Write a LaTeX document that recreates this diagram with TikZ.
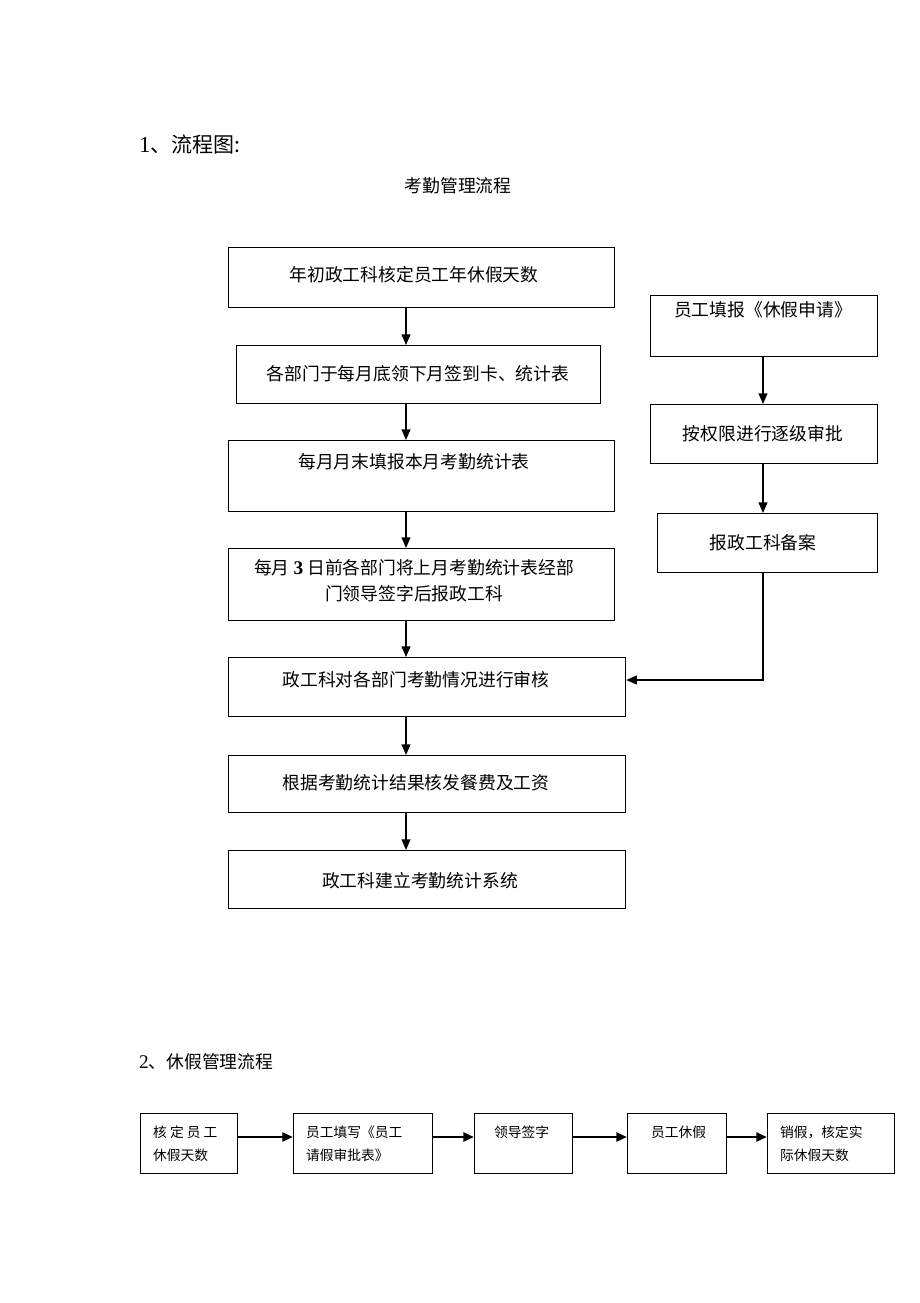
\documentclass[tikz,border=0pt]{standalone}
\usepackage{fontspec}
\setmainfont{Liberation Serif}
\newfontfamily\cjk{Noto Sans CJK SC}[Scale=0.92]
\usetikzlibrary{arrows.meta}
\begin{document}
\begin{tikzpicture}[x=0.02cm,y=-0.02cm,
  bx/.style={draw,line width=0.7pt,anchor=north west,inner sep=0pt},
  lbl/.style={font=\cjk\fontsize{11pt}{15pt}\selectfont},
  sm/.style={font=\cjk\fontsize{8.5pt}{13pt}\selectfont,align=left,anchor=north west},
  arr/.style={-{Triangle[length=6pt,width=5pt]},line width=0.7pt},
  arr2/.style={-{Triangle[length=6pt,width=5pt]},line width=1.6pt}]
\useasboundingbox (0,0) rectangle (920,1303);
\node[anchor=west,font=\fontsize{13pt}{15pt}\selectfont] (t1) at (133,145) {1{\cjk 、流程图:}};
\node[lbl] (t2) at (458,186) {考勤管理流程};
\node[anchor=west,lbl] (t3) at (133,1062) {\normalfont 2{\cjk 、休假管理流程}};
% left column
\node[bx,minimum width=386*0.02cm,minimum height=60*0.02cm] (a1) at (228,247) {};
\node[lbl] at (414,275) {年初政工科核定员工年休假天数};
\node[bx,minimum width=364*0.02cm,minimum height=58*0.02cm] (a2) at (236,345) {};
\node[lbl] at (418,374) {各部门于每月底领下月签到卡、统计表};
\node[bx,minimum width=386*0.02cm,minimum height=71*0.02cm] (a3) at (228,440) {};
\node[lbl] at (414,462) {每月月末填报本月考勤统计表};
\node[bx,minimum width=386*0.02cm,minimum height=72*0.02cm] (a4) at (228,548) {};
\node[lbl,align=center] at (414,581) {每月 {\normalfont\bfseries 3} 日前各部门将上月考勤统计表经部\\门领导签字后报政工科};
\node[bx,minimum width=397*0.02cm,minimum height=59*0.02cm] (a5) at (228,657) {};
\node[lbl] at (416,680) {政工科对各部门考勤情况进行审核};
\node[bx,minimum width=397*0.02cm,minimum height=57*0.02cm] (a6) at (228,755) {};
\node[lbl] at (416,783) {根据考勤统计结果核发餐费及工资};
\node[bx,minimum width=397*0.02cm,minimum height=58*0.02cm] (a7) at (228,850) {};
\node[lbl] at (420,881) {政工科建立考勤统计系统};
\foreach \i/\j in {a1/a2,a2/a3,a3/a4,a4/a5,a5/a6,a6/a7}
  \draw[arr] (\i.south -| 406,0) -- (\j.north -| 406,0);
% right column
\node[bx,minimum width=227*0.02cm,minimum height=61*0.02cm] (r1) at (650,295) {};
\node[lbl] at (763,310) {员工填报《休假申请》};
\node[bx,minimum width=227*0.02cm,minimum height=59*0.02cm] (r2) at (650,404) {};
\node[lbl] at (763,434) {按权限进行逐级审批};
\node[bx,minimum width=220*0.02cm,minimum height=59*0.02cm] (r3) at (657,513) {};
\node[lbl] at (763,543) {报政工科备案};
\draw[arr] (r1.south -| 763,0) -- (r2.north -| 763,0);
\draw[arr] (r2.south -| 763,0) -- (r3.north -| 763,0);
\coordinate (c) at (763,680);
\draw[arr] (r3.south -| c) -- (c) -- (c -| a5.east);
% bottom row
\node[bx,minimum width=97*0.02cm,minimum height=60*0.02cm] (b1) at (140,1113) {};
\node[sm] at (147,1120) {核 定 员 工\\休假天数};
\node[bx,minimum width=139*0.02cm,minimum height=60*0.02cm] (b2) at (293,1113) {};
\node[sm] at (300,1120) {员工填写《员工\\请假审批表》};
\node[bx,minimum width=98*0.02cm,minimum height=60*0.02cm] (b3) at (474,1113) {};
\node[sm] at (488,1120) {领导签字};
\node[bx,minimum width=99*0.02cm,minimum height=60*0.02cm] (b4) at (627,1113) {};
\node[sm] at (645,1120) {员工休假};
\node[bx,minimum width=127*0.02cm,minimum height=60*0.02cm] (b5) at (767,1113) {};
\node[sm] at (774,1120) {销假，核定实\\际休假天数};
\foreach \i/\j in {b1/b2,b2/b3,b3/b4,b4/b5}
  \draw[arr2] (\i.east |- 0,1137) -- (\j.west |- 0,1137);
\end{tikzpicture}
\end{document}
